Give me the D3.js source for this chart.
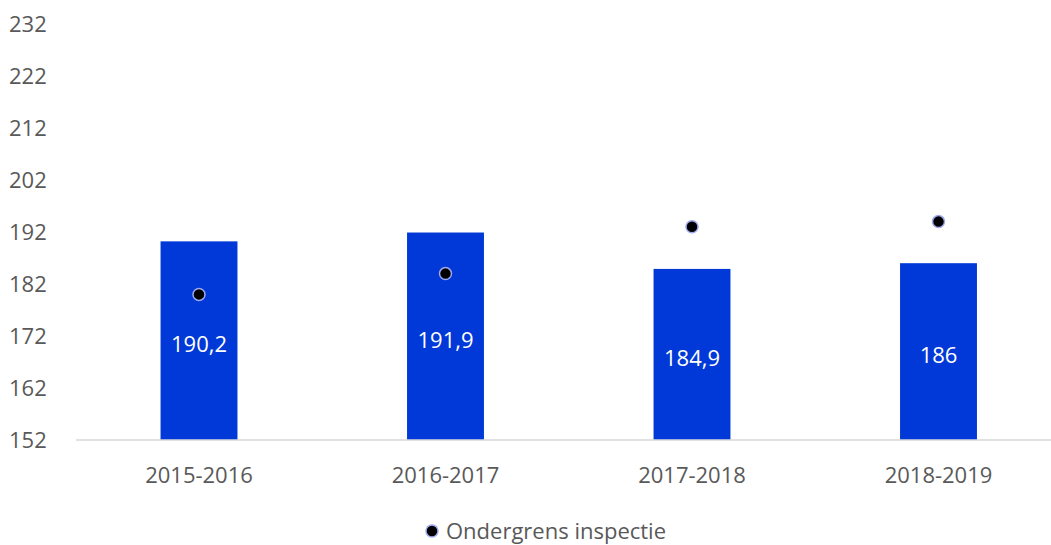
<!DOCTYPE html>
<html><head><meta charset="utf-8">
<script src="https://cdn.jsdelivr.net/npm/d3@7"></script>
<style>body{margin:0;background:#fff}svg{display:block}</style>
</head><body>
<svg id="c" width="1051" height="545"></svg>
<script>
const categories = ["2015-2016","2016-2017","2017-2018","2018-2019"];
const barValues = [190.2, 191.9, 184.9, 186];
const barLabels = ["190,2","191,9","184,9","186"];
const lowerBound = [180, 184, 193, 194];
const yTicks = [152,162,172,182,192,202,212,222,232];
const legendLabel = "Ondergrens inspectie";

const font = "'Open Sans', 'Noto Sans', sans-serif";
const svg = d3.select("#c");
const x = d3.scaleBand().domain(categories).range([75.75, 1061.75]).paddingInner(0.688).paddingOuter(0.344);
const y = d3.scaleLinear().domain([152, 232]).range([440, 24]);

// y tick labels (no line)
svg.append("g").selectAll("text").data(yTicks).join("text")
  .attr("x", 9).attr("y", d => y(d)).attr("dy", "0.35em")
  .attr("font-family", font).attr("font-size", 22).attr("fill", "#595959")
  .text(d => d);

// bars
svg.append("g").selectAll("rect").data(barValues).join("rect")
  .attr("x", (d,i) => x(categories[i])).attr("width", x.bandwidth())
  .attr("y", d => y(d)).attr("height", d => y(152) - y(d))
  .attr("fill", "#0039D7");

// axis line
const xAxis = svg.append("g").attr("transform", `translate(0,${y(152)})`)
  .call(d3.axisBottom(x).tickSize(0).tickPadding(27).tickSizeOuter(0));
xAxis.select(".domain").attr("stroke", "#d9d9d9").attr("stroke-width", 1.5).attr("d", "M76,0H1051");
xAxis.selectAll("text").attr("font-family", font).attr("font-size", 22).attr("fill", "#595959");

// labels
svg.append("g").selectAll("text").data(barValues).join("text")
  .attr("x", (d,i) => x(categories[i]) + x.bandwidth()/2)
  .attr("y", d => (y(d) + y(152))/2 + 4).attr("dy", "0.35em")
  .attr("text-anchor", "middle").attr("font-family", font).attr("font-size", 22).attr("fill", "#fff")
  .text((d,i) => barLabels[i]);

// dots
svg.append("g").selectAll("circle").data(lowerBound).join("circle")
  .attr("cx", (d,i) => x(categories[i]) + x.bandwidth()/2)
  .attr("cy", d => y(d)).attr("r", 6)
  .attr("fill", "#000").attr("stroke", "#9fa8ee").attr("stroke-width", 1.5);

// legend
const lg = svg.append("g");
lg.append("circle").attr("cx", 432).attr("cy", 531).attr("r", 6).attr("fill", "#000").attr("stroke", "#9fa8ee").attr("stroke-width", 1.5);
lg.append("text").attr("x", 446).attr("y", 531).attr("dy", "0.35em")
  .attr("font-family", font).attr("font-size", 22).attr("fill", "#595959").text(legendLabel);
</script>
</body></html>
